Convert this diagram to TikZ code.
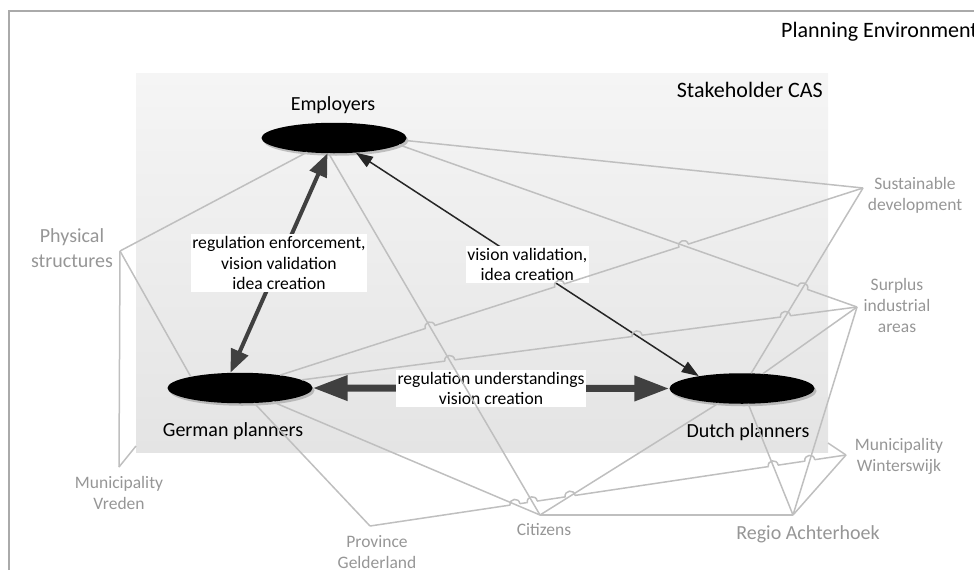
\documentclass[tikz,border=0pt]{standalone}
\usepackage{fontspec}
\setmainfont{Carlito}
\usetikzlibrary{arrows.meta,calc,intersections,shadows,shapes.geometric}

\definecolor{lnGray}{RGB}{191,191,191}
\definecolor{txGray}{RGB}{150,150,150}
\definecolor{frGray}{RGB}{170,170,170}
\definecolor{arDark}{RGB}{64,64,64}
\definecolor{arThin}{RGB}{38,38,38}
\definecolor{boxTop}{RGB}{245,245,245}
\definecolor{boxBot}{RGB}{228,228,228}

\tikzset{
  frameline/.style={draw=frGray, line width=1.2pt},
  casbox/.style={rectangle, draw=none, inner sep=0pt, outer sep=0pt,
    top color=boxTop, bottom color=boxBot,
    minimum width=692pt, minimum height=379pt},
  ttl/.style={inner sep=0pt, text=black, font=\fontsize{22}{26}\selectfont},
  gline/.style={draw=lnGray, line width=1.5pt},
  glabel/.style={text=txGray, align=center, inner sep=0pt, font=\fontsize{17.5}{21}\selectfont},
  gbig/.style={text=txGray, align=center, inner sep=0pt, font=\fontsize{20}{25}\selectfont},
  blabel/.style={text=black, inner sep=0pt, font=\fontsize{20}{24}\selectfont},
  actor/.style={ellipse, fill=black, minimum width=145pt, minimum height=30.5pt, inner sep=0pt,
    drop shadow={shadow xshift=2pt, shadow yshift=-2.5pt, fill=black!45, opacity=0.5}},
  lblbox/.style={fill=white, align=center, inner xsep=1.5pt, inner ysep=2pt,
    font=\fontsize{17.6}{20.5}\selectfont, text=black},
  midarr/.style={draw=arDark, line width=4pt, {Triangle[length=23pt,width=18pt]}-{Triangle[length=23pt,width=18pt]}},
  fatarr/.style={draw=arDark, line width=7pt, {Triangle[length=35pt,width=24pt]}-{Triangle[length=35pt,width=24pt]}},
  thinarr/.style={draw=arThin, line width=1.5pt, {Triangle[length=17pt,width=12pt]}-{Triangle[length=17pt,width=12pt]}}
}

\newcommand\hopArc[3]{%
  \coordinate (hpA) at ($(#1)!5pt!(#2)$);
  \coordinate (hpB) at ($(#1)!5pt!(#3)$);
  \draw[gline] (hpA) .. controls ($(hpA)!6.67pt!90:(#1)$) and ($(hpB)!6.67pt!-90:(#1)$) .. (hpB);
}

\begin{document}
\begin{tikzpicture}[x=1pt,y=-1pt]
\useasboundingbox (0,0) rectangle (974,570);

% frame of the planning environment
\draw[frameline] (9,570) -- (9,11) -- (974,11);

% stakeholder CAS box
\node[casbox] (cas) at (482,262.5) {};
\node[ttl, anchor=base west] (penv) at (781,37) {Planning Environment};
\node[ttl, anchor=base east] (casL) at (823,97) {Stakeholder CAS};

% actors
\node[actor] (emp) at (334,138) {};
\node[actor] (ger) at (240,388) {};
\node[actor] (dut) at (742,388.5) {};
\node[blabel, anchor=base] (empL) at (333,110) {Employers};
\node[blabel, anchor=base] (gerL) at (233,436) {German planners};
\node[blabel, anchor=base] (dutL) at (748,437) {Dutch planners};

% junction points of environment elements
\coordinate (physP) at (120,251);
\coordinate (vredP) at (119,467);
\coordinate (provP) at (370,526);
\coordinate (citP) at (540,515);
\coordinate (regioP) at (793,515);
\coordinate (wintP) at (846,455);
\coordinate (sustP) at (863,188);
\coordinate (surpP) at (857,307);
\coordinate (casVr) at (136,446);
\coordinate (casWi) at (828,443);

% environment labels
\node[gbig] (phys) at (72,248) {Physical\\structures};
\node[glabel] (vred) at (119,493) {Municipality\\Vreden};
\node[glabel] (prov) at (377,552) {Province\\Gelderland};
\node[glabel, anchor=base] (cit) at (544,535) {Citizens};
\node[gbig, anchor=base] (regio) at (808,539) {Regio Achterhoek};
\node[glabel] (wint) at (899,456) {Municipality\\Winterswijk};
\node[glabel] (sust) at (915,195) {Sustainable\\development};
\node[glabel] (surp) at (897,305) {Surplus\\industrial\\areas};

% dark relations with labels
\draw[midarr] (emp.-113) -- node[lblbox] (lab1) {regulation enforcement,\\vision validation\\idea creation} (ger.122);
\draw[thinarr, name path=ED] (emp.-34) -- node[lblbox] (lab2) {vision validation,\\idea creation} (dut.164);
\draw[fatarr] (ger.east) -- node[lblbox] (lab3) {regulation understandings\\vision creation} (dut.west);

% gray relations (crossed ones named)
\draw[gline, name path=EC] (emp.-109) -- (citP);
\draw[gline, name path=DS] (dut) -- (sustP);
\draw[gline, name path=GC] (ger) -- (citP);
\draw[gline, name path=DC] (dut) -- (citP);
\draw[gline, name path=DR] (dut) -- (regioP);
\draw[gline, name path=UR] (surpP) -- (regioP);
\draw[gline] (physP) -- (emp);
\draw[gline] (physP) -- (ger.167);
\draw[gline] (physP) -- (vredP);
\draw[gline] (vredP) -- (casVr);
\draw[gline] (emp.-2) -- (sustP);
\draw[gline] (ger) -- (provP);
\draw[gline] (citP) -- (regioP);
\draw[gline] (dut) -- (surpP);
\draw[gline] (wintP) -- (casWi);
\draw[gline] (regioP) -- (wintP);

% hopping lines
\path[name path=GS] (ger) -- (sustP);
\path[name path=GU] (ger) -- (surpP);
\path[name path=ES] (emp.-6) -- (surpP);
\path[name path=PW] (provP) -- (wintP);

\path[name intersections={of=GS and EC, by={xa}}];
\path[name intersections={of=GS and ED, by={xb}}];
\path[name intersections={of=GS and ES, by={xc}}];
\path[name intersections={of=GU and EC, by={xd}}];
\path[name intersections={of=GU and ED, by={xe}}];
\path[name intersections={of=GU and DS, by={xf}}];
\path[name intersections={of=ES and DS, by={xg}}];
\path[name intersections={of=PW and GC, by={xh}}];
\path[name intersections={of=PW and EC, by={xi}}];
\path[name intersections={of=PW and DC, by={xj}}];
\path[name intersections={of=PW and DR, by={xk}}];
\path[name intersections={of=PW and UR, by={xl}}];

\begin{scope}[even odd rule]
  \clip (-50,-50) rectangle (1050,650)
    (xa) circle[radius=5pt] (xb) circle[radius=5pt] (xc) circle[radius=5pt];
  \draw[gline] (ger) -- (sustP);
\end{scope}
\begin{scope}[even odd rule]
  \clip (-50,-50) rectangle (1050,650)
    (xd) circle[radius=5pt] (xe) circle[radius=5pt] (xf) circle[radius=5pt];
  \draw[gline] (ger) -- (surpP);
\end{scope}
\begin{scope}[even odd rule]
  \clip (-50,-50) rectangle (1050,650)
    (xg) circle[radius=5pt];
  \draw[gline] (emp.-6) -- (surpP);
\end{scope}
\begin{scope}[even odd rule]
  \clip (-50,-50) rectangle (1050,650)
    (xh) circle[radius=5pt] (xi) circle[radius=5pt] (xj) circle[radius=5pt]
    (xk) circle[radius=5pt] (xl) circle[radius=5pt];
  \draw[gline] (provP) -- (wintP);
\end{scope}

\hopArc{xa}{ger}{sustP}
\hopArc{xb}{ger}{sustP}
\hopArc{xc}{ger}{sustP}
\hopArc{xd}{ger}{surpP}
\hopArc{xe}{ger}{surpP}
\hopArc{xf}{ger}{surpP}
\hopArc{xg}{emp.-6}{surpP}
\hopArc{xh}{provP}{wintP}
\hopArc{xi}{provP}{wintP}
\hopArc{xj}{provP}{wintP}
\hopArc{xk}{provP}{wintP}
\hopArc{xl}{provP}{wintP}
\end{tikzpicture}
\end{document}
